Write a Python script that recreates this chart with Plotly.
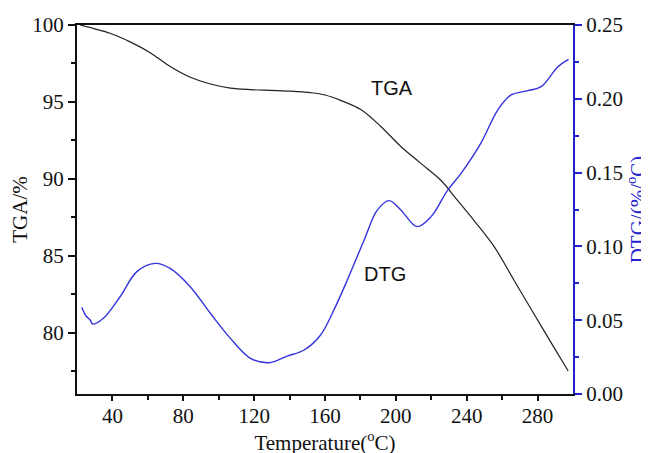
import plotly.graph_objects as go

# TGA curve (temperature in °C, mass %)
tga_t = [21.7, 30, 38.7, 50, 61.3, 72.6, 84, 95.3, 106.6, 117.9, 129.2, 140.5, 151.9, 160,
         168.8, 180.2, 191.5, 202.8, 214.1, 225.4, 234, 244, 255.4, 266.7, 278, 289.4, 297.3]
tga_v = [100.0, 99.75, 99.46, 98.9, 98.2, 97.3, 96.6, 96.16, 95.9, 95.8, 95.75, 95.7, 95.6, 95.45,
         95.1, 94.5, 93.4, 92.1, 91.0, 89.9, 88.7, 87.3, 85.6, 83.4, 81.2, 79.0, 77.5]

# DTG curve (%/°C)
dtg_t = [22.7, 25, 27.4, 28.9, 34.9, 44.3, 53.8, 64.1, 72.6, 83.9, 95.3, 106.6, 117.9, 128.3,
         138.7, 148.2, 157.5, 165, 172.6, 182, 189.6, 196.2, 202.8, 211.9, 219.8, 229.2,
         236.8, 248, 257.5, 265, 274.5, 282, 291.5, 297.5]
dtg_v = [0.0587, 0.053, 0.0501, 0.0474, 0.0513, 0.0659, 0.0829, 0.0885, 0.0851, 0.0727, 0.0547,
         0.0377, 0.0242, 0.0212, 0.0257, 0.0298, 0.040, 0.0569, 0.0772, 0.104, 0.1247, 0.131,
         0.1247, 0.1134, 0.120, 0.138, 0.1495, 0.170, 0.1924, 0.2026, 0.2055, 0.2082, 0.2217, 0.2267]

x_ticks = [40, 80, 120, 160, 200, 240, 280]
y_ticks = [80, 85, 90, 95, 100]
y2_ticks = [0.00, 0.05, 0.10, 0.15, 0.20, 0.25]

BLUE = "#2222cc"
SERIF = "Liberation Serif, Times New Roman, serif"
SANS = "Liberation Sans, Arial, sans-serif"

fig = go.Figure()
fig.add_trace(go.Scatter(x=tga_t, y=tga_v, mode="lines", line=dict(color="#222222", width=1.2, shape="spline"),
                         name="TGA", yaxis="y"))
fig.add_trace(go.Scatter(x=dtg_t, y=dtg_v, mode="lines", line=dict(color="#3333dd", width=1.4, shape="spline"),
                         name="DTG", yaxis="y2"))

fig.add_annotation(x=198, y=95.9, xref="x", yref="y", text="TGA", showarrow=False,
                   font=dict(family=SANS, size=20, color="#111111"))
fig.add_annotation(x=193.7, y=83.8, xref="x", yref="y", text="DTG", showarrow=False,
                   font=dict(family=SANS, size=20, color="#111111"))

fig.update_layout(
    width=649, height=453,
    margin=dict(l=69, r=84, t=17, b=67),
    plot_bgcolor="white", paper_bgcolor="white",
    showlegend=False,
    font=dict(family=SERIF, size=21, color="#111111"),
    xaxis=dict(range=[20, 300], tickvals=x_ticks, ticks="outside", ticklen=5, tickwidth=2,
               tickcolor="#111111", showline=True, linecolor="#111111", linewidth=2, mirror=True,
               showgrid=False, zeroline=False, automargin=False, ticklabelstandoff=-3,
               minor=dict(tickvals=[60, 100, 140, 180, 220, 260], ticks="outside", ticklen=4,
                          tickwidth=2, tickcolor="#111111"),
               title=dict(text="Temperature(<sup>o</sup>C)", font=dict(family=SERIF, size=21), standoff=0)),
    yaxis=dict(range=[76, 100], tickvals=y_ticks, ticks="outside", ticklen=7, tickwidth=2,
               tickcolor="#111111", showline=True, linecolor="#111111", linewidth=2,
               showgrid=False, zeroline=False, automargin=False,
               minor=dict(tickvals=[77.5, 82.5, 87.5, 92.5, 97.5], ticks="outside", ticklen=4,
                          tickwidth=2, tickcolor="#111111"),
               title=dict(text="TGA/%", font=dict(family=SERIF, size=21), standoff=6)),
    yaxis2=dict(range=[0, 0.25], tickvals=y2_ticks, tickformat=".2f", overlaying="y", side="right",
                ticks="outside", ticklen=7, tickwidth=2, tickcolor=BLUE, automargin=False,
                showline=True, linecolor=BLUE, linewidth=2, showgrid=False, zeroline=False,
                minor=dict(tickvals=[0.025, 0.075, 0.125, 0.175, 0.225], ticks="outside", ticklen=4,
                           tickwidth=2, tickcolor=BLUE),
                title=dict(text="DTG/(%/<sup>o</sup>C)", font=dict(family=SERIF, size=21, color=BLUE), standoff=3)),
)

fig.write_html("out.html")
